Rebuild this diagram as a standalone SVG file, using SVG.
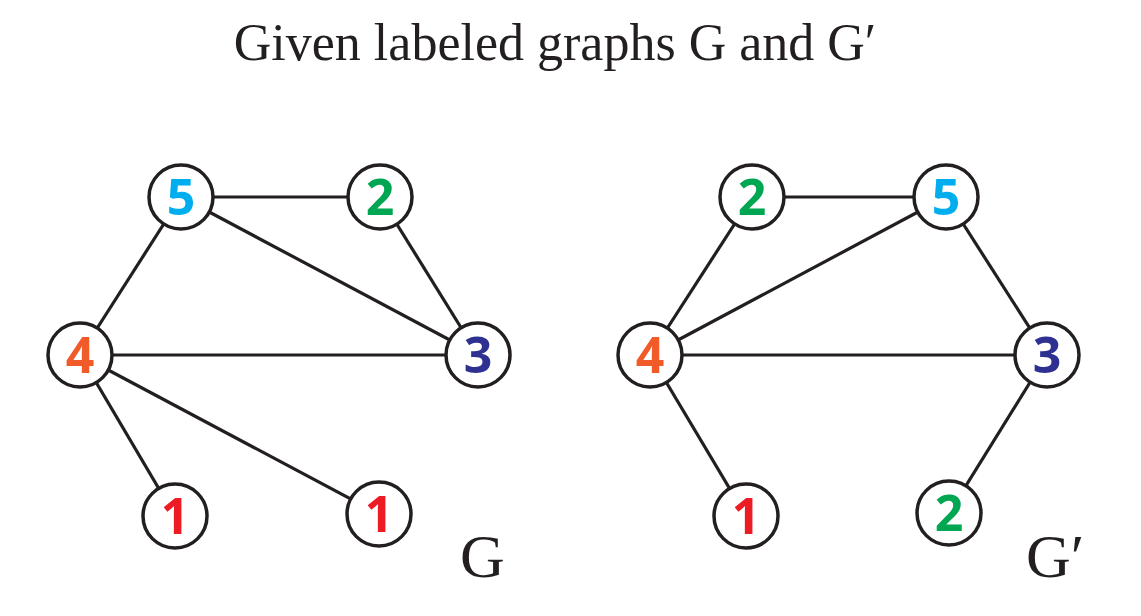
<svg xmlns="http://www.w3.org/2000/svg" width="1141" height="616" viewBox="0 0 1141 616">
<style>
.e{stroke:#231f20;stroke-width:3.2;fill:none}
.n circle{fill:#fff;stroke:#231f20;stroke-width:3.5}
.n text{font-family:"Open Sans","Liberation Sans",sans-serif;font-weight:bold;font-size:50px;text-anchor:middle}
.t{font-family:"Liberation Serif",serif;fill:#231f20}
</style>
<rect width="1141" height="616" fill="#fff"/>
<text class="t" x="555" y="60" font-size="52" text-anchor="middle">Given labeled graphs G and G′</text>
<g id="connectors">
<line class="e" x1="181" y1="197" x2="380" y2="197"/>
<line class="e" x1="181" y1="197" x2="478" y2="355"/>
<line class="e" x1="181" y1="197" x2="80" y2="355"/>
<line class="e" x1="80" y1="355" x2="478" y2="355"/>
<line class="e" x1="80" y1="355" x2="175" y2="516"/>
<line class="e" x1="80" y1="355" x2="379" y2="514"/>
<line class="e" x1="380" y1="197" x2="478" y2="355"/>
<line class="e" x1="752" y1="197" x2="946" y2="197"/>
<line class="e" x1="752" y1="197" x2="650" y2="355"/>
<line class="e" x1="946" y1="197" x2="650" y2="355"/>
<line class="e" x1="946" y1="197" x2="1047" y2="355"/>
<line class="e" x1="650" y1="355" x2="1047" y2="355"/>
<line class="e" x1="650" y1="355" x2="746" y2="516"/>
<line class="e" x1="1047" y1="355" x2="949" y2="513"/>
</g>
<g id="G-5" class="n"><circle cx="181" cy="197" r="32"/><text x="181" y="215" fill="#00aeef">5</text></g>
<g id="G-2" class="n"><circle cx="380" cy="197" r="32"/><text x="380" y="215" fill="#00a651">2</text></g>
<g id="G-4" class="n"><circle cx="80" cy="355" r="32"/><text x="80" y="373" fill="#f15a29">4</text></g>
<g id="G-3" class="n"><circle cx="478" cy="355" r="32"/><text x="478" y="373" fill="#2e3192">3</text></g>
<g id="G-1a" class="n"><circle cx="175" cy="516" r="32"/><text x="175" y="534" fill="#ed1c24">1</text></g>
<g id="G-1b" class="n"><circle cx="379" cy="514" r="32"/><text x="379" y="532" fill="#ed1c24">1</text></g>
<g id="H-2a" class="n"><circle cx="752" cy="197" r="32"/><text x="752" y="215" fill="#00a651">2</text></g>
<g id="H-5" class="n"><circle cx="946" cy="197" r="32"/><text x="946" y="215" fill="#00aeef">5</text></g>
<g id="H-4" class="n"><circle cx="650" cy="355" r="32"/><text x="650" y="373" fill="#f15a29">4</text></g>
<g id="H-3" class="n"><circle cx="1047" cy="355" r="32"/><text x="1047" y="373" fill="#2e3192">3</text></g>
<g id="H-1" class="n"><circle cx="746" cy="516" r="32"/><text x="746" y="534" fill="#ed1c24">1</text></g>
<g id="H-2b" class="n"><circle cx="949" cy="513" r="32"/><text x="949" y="531" fill="#00a651">2</text></g>
<text class="t" x="460" y="577" font-size="62">G</text>
<text class="t" x="1026" y="577" font-size="62">G′</text>
</svg>
